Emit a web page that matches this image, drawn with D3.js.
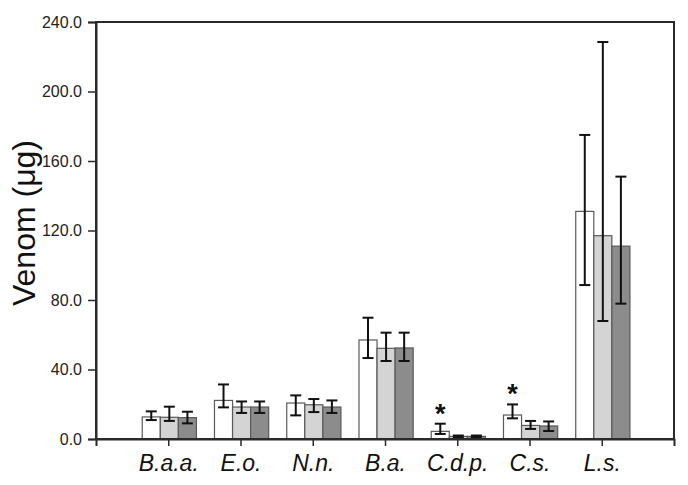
<!DOCTYPE html>
<html>
<head>
<meta charset="utf-8">
<script src="https://cdn.jsdelivr.net/npm/d3@7"></script>
<style>
  html, body { margin: 0; padding: 0; background: #fff; }
  svg { display: block; }
</style>
</head>
<body>
<svg id="chart" width="688" height="485"></svg>
<script>
// ---- data ----
const categories = ["B.a.a.", "E.o.", "N.n.", "B.a.", "C.d.p.", "C.s.", "L.s."];
const seriesNames = ["s1", "s2", "s3"];
const means = [
  [12.7, 22.2, 20.7, 57.0, 4.4, 13.8, 131.0],
  [12.5, 18.4, 19.7, 52.2, 1.5, 7.8, 117.0],
  [12.3, 18.4, 18.4, 52.4, 1.5, 7.5, 111.0]
];
const errTop = [
  [15.9, 31.4, 25.1, 69.8, 8.8, 19.9, 175.0],
  [18.6, 21.6, 23.0, 61.2, 2.0, 10.4, 228.5],
  [15.7, 21.6, 22.2, 61.2, 2.0, 10.1, 151.0]
];
const errBottom = [
  [10.9, 18.2, 13.6, 46.6, 2.9, 11.9, 88.6],
  [10.4, 15.0, 15.5, 44.9, 1.0, 5.8, 67.9],
  [9.0, 15.0, 15.0, 44.9, 1.0, 4.6, 77.9]
];
const significant = [[4, 0], [5, 0]]; // [category index, series index]
const yTicks = [0, 40, 80, 120, 160, 200, 240];
const fills = ["#ffffff", "#d4d4d4", "#8c8c8c"];

// ---- layout ----
const svg = d3.select("#chart");
const L = 96, R = 674, T = 22, B = 439;
const x = d3.scaleLinear().domain([0, 8]).range([L, R]);
const y = d3.scaleLinear().domain([0, 240]).range([B, T]);
const barW = 0.25;

// bars
const bars = [];
means.forEach((row, s) => row.forEach((v, i) => bars.push({ s, i, v, hi: errTop[s][i], lo: errBottom[s][i] })));
function i1(i) { return i + 1; }
const bx = d => x(i1(d.i) + (d.s - 1) * barW + 0.015);

const g = svg.append("g");
g.selectAll("rect.bar").data(bars).enter().append("rect")
  .attr("class", "bar")
  .attr("x", d => x(i1(d.i) + (d.s - 1.5) * barW + 0.015))
  .attr("width", x(barW) - x(0))
  .attr("y", d => y(d.v))
  .attr("height", d => y(0) - y(d.v))
  .attr("fill", d => fills[d.s])
  .attr("stroke", "#5a5a5a")
  .attr("stroke-width", 1.2);

// error bars
const capHalf = 5.5;
const eg = g.selectAll("g.err").data(bars).enter().append("g").attr("class", "err")
  .attr("stroke", "#111").attr("stroke-width", 2).attr("fill", "none");
eg.append("line").attr("x1", bx).attr("x2", bx).attr("y1", d => y(d.hi)).attr("y2", d => y(d.lo));
eg.append("line").attr("x1", d => bx(d) - capHalf).attr("x2", d => bx(d) + capHalf).attr("y1", d => y(d.hi)).attr("y2", d => y(d.hi));
eg.append("line").attr("x1", d => bx(d) - capHalf).attr("x2", d => bx(d) + capHalf).attr("y1", d => y(d.lo)).attr("y2", d => y(d.lo));

// significance asterisks
g.selectAll("text.star").data(significant).enter().append("text")
  .attr("class", "star")
  .attr("x", d => bx({ i: d[0], s: d[1] }))
  .attr("y", d => y(errTop[d[1]][d[0]]) - 1)
  .attr("text-anchor", "middle")
  .attr("font-family", "Liberation Sans, Arial, sans-serif")
  .attr("font-weight", "bold")
  .attr("font-size", 27)
  .attr("fill", "#111")
  .text("*");

// frame
svg.append("rect").attr("x", L).attr("y", T).attr("width", R - L).attr("height", B - T)
  .attr("fill", "none").attr("stroke", "#2a2a2a").attr("stroke-width", 2);

// y axis
const yAxis = d3.axisLeft(y).tickValues(yTicks).tickSize(8).tickPadding(6)
  .tickFormat(d => d.toFixed(1));
const ya = svg.append("g").attr("transform", `translate(${L},0)`).call(yAxis);
ya.select(".domain").attr("stroke", "#2a2a2a").attr("stroke-width", 2);
ya.selectAll(".tick line").attr("stroke", "#2a2a2a").attr("stroke-width", 1.5);
ya.selectAll(".tick text").attr("font-family", "Liberation Sans, Arial, sans-serif")
  .attr("font-size", 16).attr("fill", "#222");

// x axis
const xAxis = d3.axisBottom(x).tickValues(categories.map((c, i) => i + 1)).tickSize(7).tickPadding(9)
  .tickFormat((d, k) => categories[k]);
const xa = svg.append("g").attr("transform", `translate(0,${B})`).call(xAxis);
xa.select(".domain").attr("stroke", "#2a2a2a").attr("stroke-width", 2);
xa.selectAll(".tick line").attr("stroke", "#2a2a2a").attr("stroke-width", 1.5);
xa.selectAll(".tick text").attr("font-family", "Liberation Sans, Arial, sans-serif")
  .attr("font-size", 23).attr("font-style", "italic").attr("fill", "#111");

// y title
svg.append("text")
  .attr("transform", `translate(35,223) rotate(-90)`)
  .attr("text-anchor", "middle")
  .attr("font-family", "Liberation Sans, Arial, sans-serif")
  .attr("font-size", 32)
  .attr("fill", "#111")
  .text("Venom (\u03bcg)");
</script>
</body>
</html>
